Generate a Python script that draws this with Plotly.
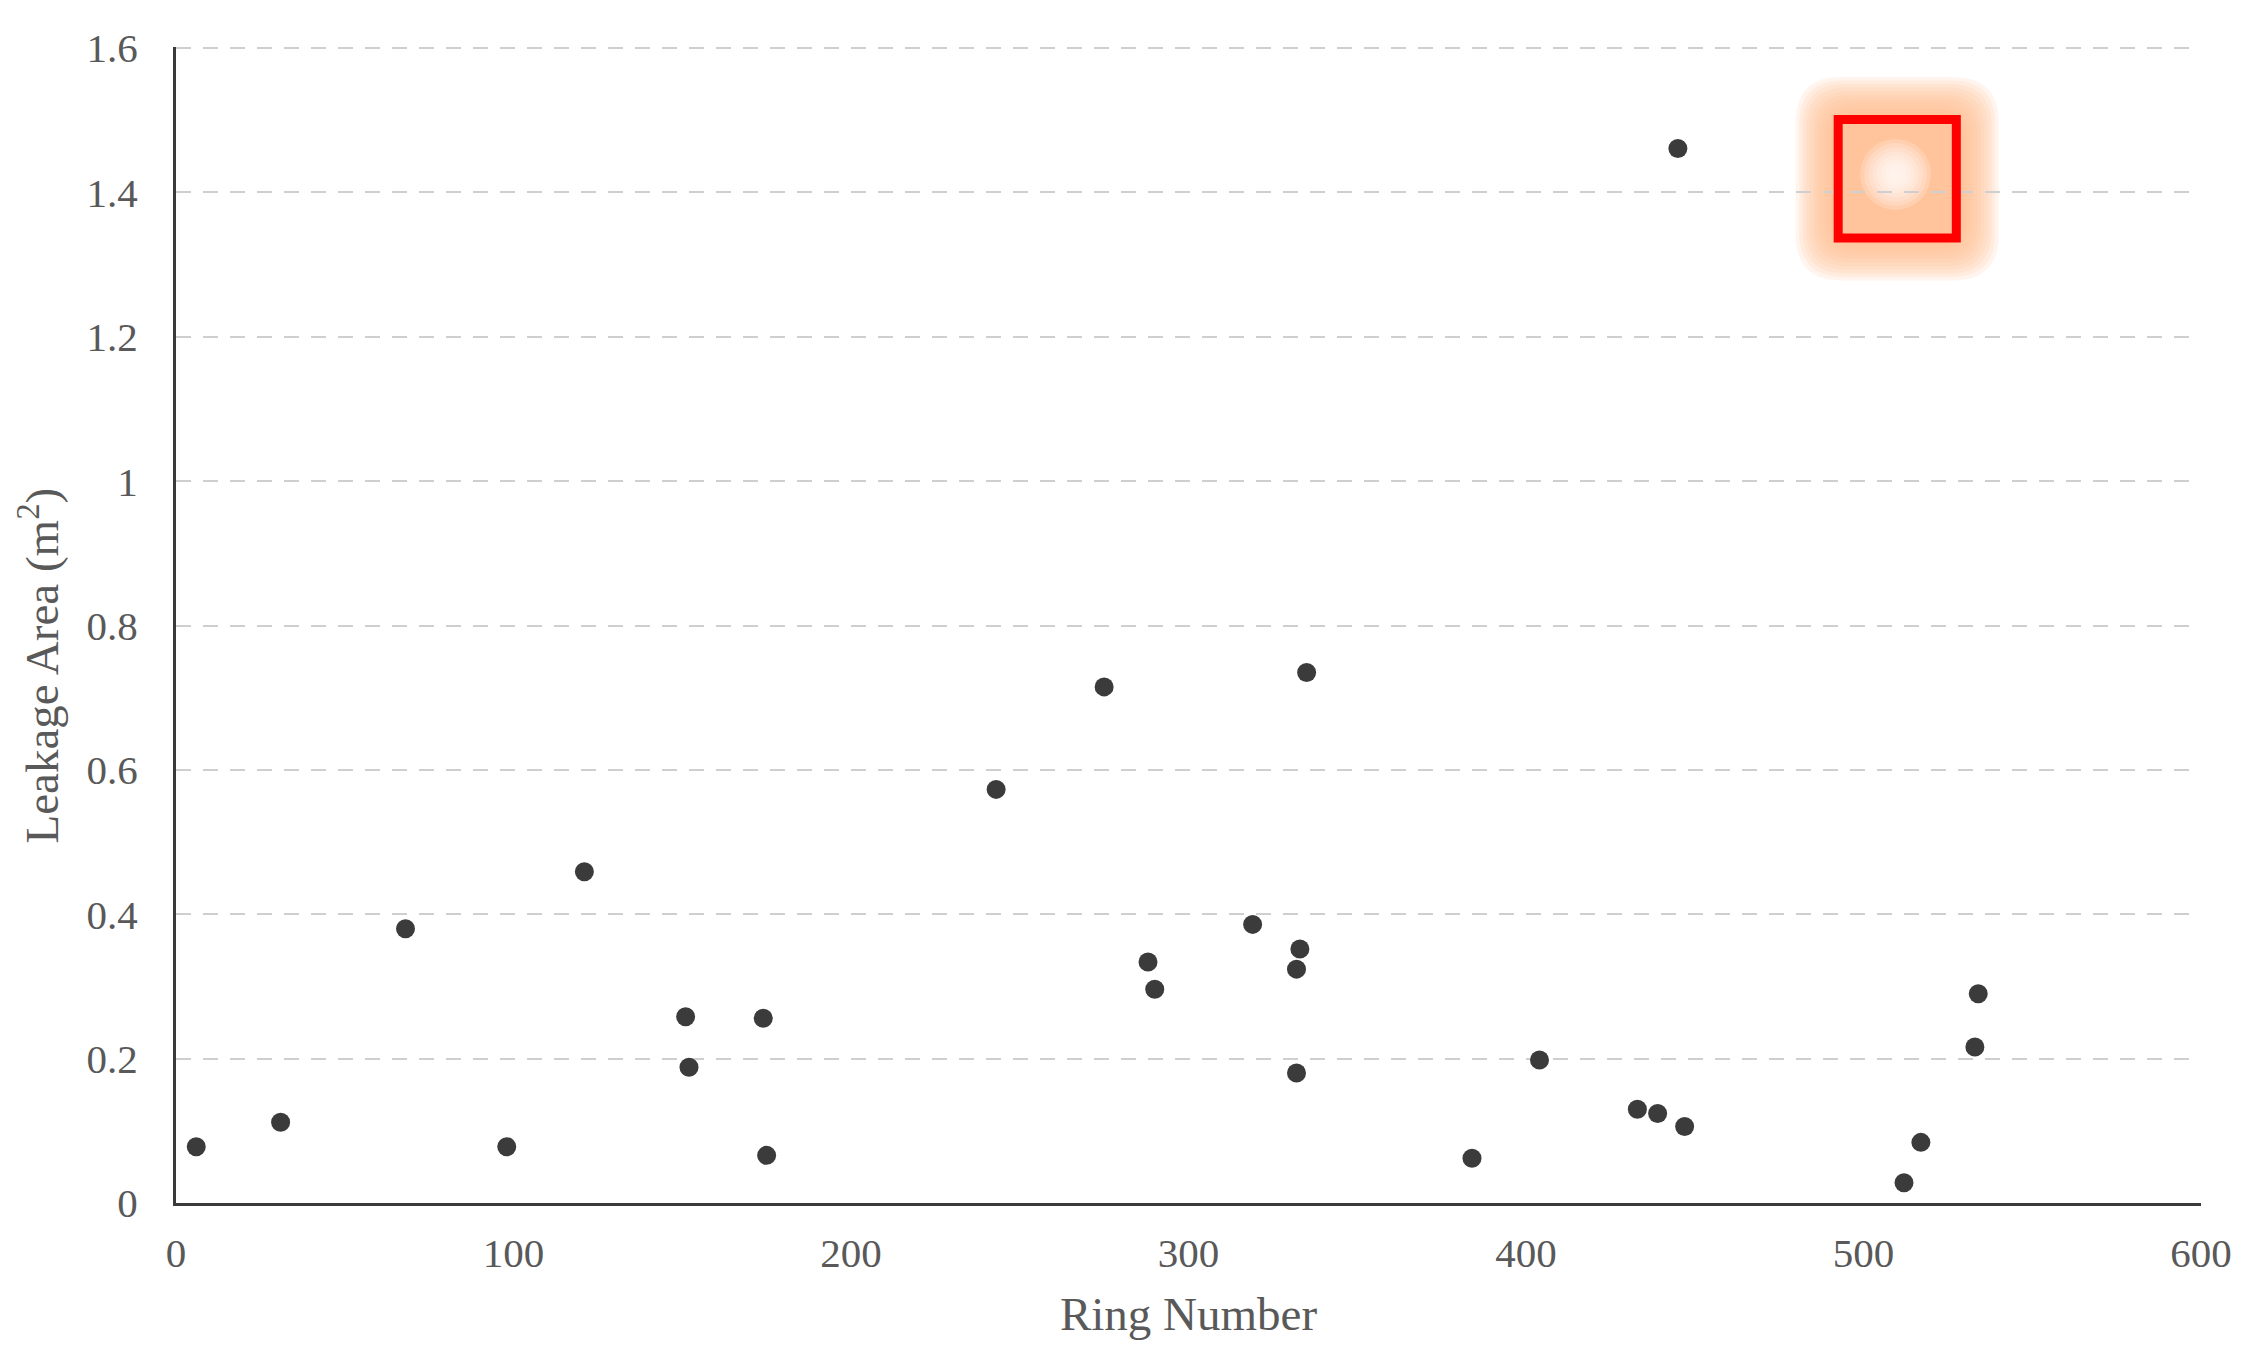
import plotly.graph_objects as go

# ring number vs leakage area
ring_number = [6, 31, 68, 98, 121, 151, 152, 174, 175, 243, 275, 288, 290,
               319, 332, 333, 332, 335, 384, 404, 433, 439, 445, 447, 512,
               517, 533, 534]
leakage_area = [0.078, 0.112, 0.380, 0.078, 0.459, 0.258, 0.188, 0.256,
                0.066, 0.573, 0.715, 0.334, 0.296, 0.386, 0.324, 0.352,
                0.180, 0.735, 0.062, 0.198, 0.130, 0.124, 1.461, 0.106,
                0.028, 0.084, 0.216, 0.290]

y_ticks = [0, 0.2, 0.4, 0.6, 0.8, 1.0, 1.2, 1.4, 1.6]
y_tick_labels = ["0", "0.2", "0.4", "0.6", "0.8", "1", "1.2", "1.4", "1.6"]
x_ticks = [0, 100, 200, 300, 400, 500, 600]
x_tick_labels = ["0", "100", "200", "300", "400", "500", "600"]

# highlighted spot (centre in data units, half-size of box)
hl_x, hl_y = 510, 1.419
hl_dx, hl_dy = 17.5, 0.082

axis_font = dict(family="Liberation Serif", size=41, color="#595959")
title_font = dict(family="Liberation Serif", size=47, color="#595959")


def rounded_rect(cx, cy, hx, hy, r):
    # rounded rectangle path in data units (r as fraction of half-size)
    rx, ry = hx * r, hy * r
    x0, x1, y0, y1 = cx - hx, cx + hx, cy - hy, cy + hy
    return (f"M {x0 + rx},{y0} L {x1 - rx},{y0} Q {x1},{y0} {x1},{y0 + ry} "
            f"L {x1},{y1 - ry} Q {x1},{y1} {x1 - rx},{y1} "
            f"L {x0 + rx},{y1} Q {x0},{y1} {x0},{y1 - ry} "
            f"L {x0},{y0 + ry} Q {x0},{y0} {x0 + rx},{y0} Z")


fig = go.Figure()
fig.add_trace(go.Scatter(
    x=ring_number, y=leakage_area, mode="markers",
    marker=dict(size=19, color="#3b3b3b"),
    showlegend=False,
))

# soft orange glow behind the box
shapes = []
for i in range(12):
    k = 1.0 + 0.06 * (12 - i)
    shapes.append(dict(
        type="path", layer="below", xref="x", yref="y",
        path=rounded_rect(hl_x, hl_y, hl_dx * k, hl_dy * k, 0.45),
        fillcolor="#fdbb8c", opacity=0.15, line=dict(width=0),
    ))
for i in range(8):
    r = 0.6 - 0.07 * i
    shapes.append(dict(
        type="circle", layer="below", xref="x", yref="y",
        x0=hl_x - 0.5 - hl_dx * r, x1=hl_x - 0.5 + hl_dx * r,
        y0=hl_y + 0.006 - hl_dy * r, y1=hl_y + 0.006 + hl_dy * r,
        fillcolor="white", opacity=0.2, line=dict(width=0),
    ))
shapes.append(dict(
    type="rect", layer="above", xref="x", yref="y",
    x0=hl_x - hl_dx, x1=hl_x + hl_dx,
    y0=hl_y - hl_dy, y1=hl_y + hl_dy,
    line=dict(color="#ff0000", width=9),
))

fig.update_layout(
    width=2247, height=1342,
    margin=dict(l=168, r=54, t=39, b=147),
    plot_bgcolor="white", paper_bgcolor="white",
    shapes=shapes,
    xaxis=dict(
        range=[0, 600], tickvals=x_ticks, ticktext=x_tick_labels,
        showgrid=False, zeroline=False,
        showline=True, linecolor="#3a3a3a", linewidth=3,
        ticks="", tickfont=axis_font, ticklabelstandoff=12,
        title=dict(text="Ring Number", font=title_font, standoff=22),
    ),
    yaxis=dict(
        range=[0, 1.6015], tickvals=y_ticks, ticktext=y_tick_labels,
        showgrid=True, gridcolor="#cfcfcf", gridwidth=2, griddash="15px,12px",
        zeroline=False,
        showline=True, linecolor="#3a3a3a", linewidth=3,
        ticks="", tickfont=axis_font, ticklabelstandoff=27,
    ),
    annotations=[dict(
        text="Leakage Area (m<sup>2</sup>)", font=title_font,
        textangle=-90, showarrow=False,
        xref="paper", yref="paper", x=0, y=0.465,
        xanchor="center", yanchor="middle", xshift=-137,
    )],
)

fig.write_html("out.html")
